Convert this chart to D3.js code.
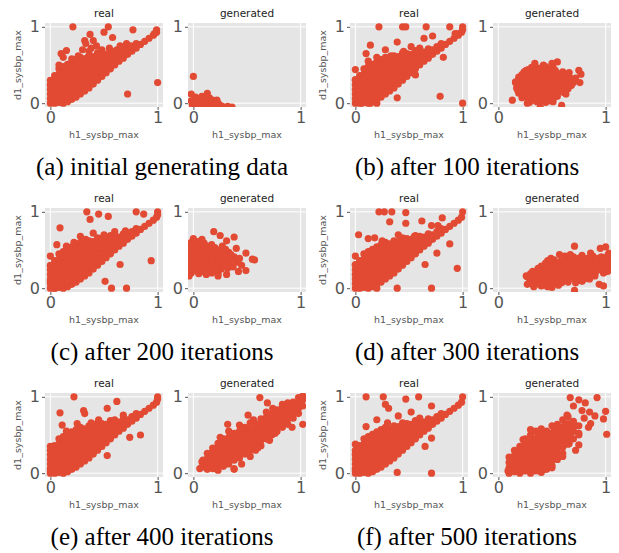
<!DOCTYPE html>
<html><head><meta charset="utf-8">
<script src="https://cdn.jsdelivr.net/npm/d3@7"></script>
<style>body{margin:0;background:#fff}</style></head>
<body>
<svg id="chart" width="619" height="553"></svg>
<script>
// ---- data ----
const captions = ["(a) initial generating data","(b) after 100 iterations","(c) after 200 iterations","(d) after 300 iterations","(e) after 400 iterations","(f) after 500 iterations"];
const subTitles = ["real","generated"];
const xLabel = "h1_sysbp_max";
const yLabel = "d1_sysbp_max";
const tickVals = [0,1];

// dense core shared by the real-data panels (h1_sysbp_max, d1_sysbp_max)
const realCore = [
[0.00,0.00],[0.00,0.06],[0.00,0.12],[0.00,0.18],[0.00,0.24],[0.00,0.30],
[0.04,0.00],[0.04,0.05],[0.04,0.11],[0.04,0.17],[0.04,0.23],[0.04,0.29],[0.04,0.36],
[0.08,0.01],[0.08,0.07],[0.08,0.13],[0.08,0.19],[0.08,0.25],[0.08,0.31],[0.08,0.38],[0.08,0.45],
[0.12,0.00],[0.12,0.05],[0.12,0.11],[0.12,0.17],[0.12,0.23],[0.12,0.29],[0.12,0.35],[0.12,0.41],[0.12,0.48],
[0.16,0.02],[0.16,0.08],[0.16,0.14],[0.16,0.20],[0.16,0.26],[0.16,0.32],[0.16,0.38],[0.16,0.44],[0.16,0.51],
[0.20,0.05],[0.20,0.11],[0.20,0.17],[0.20,0.23],[0.20,0.29],[0.20,0.35],[0.20,0.41],[0.20,0.47],[0.20,0.54],
[0.24,0.08],[0.24,0.14],[0.24,0.20],[0.24,0.26],[0.24,0.32],[0.24,0.38],[0.24,0.44],[0.24,0.50],[0.24,0.57],
[0.28,0.12],[0.28,0.18],[0.28,0.24],[0.28,0.30],[0.28,0.36],[0.28,0.42],[0.28,0.48],[0.28,0.54],[0.28,0.60],
[0.32,0.16],[0.32,0.22],[0.32,0.28],[0.32,0.34],[0.32,0.40],[0.32,0.46],[0.32,0.52],[0.32,0.58],
[0.36,0.20],[0.36,0.26],[0.36,0.32],[0.36,0.38],[0.36,0.44],[0.36,0.50],[0.36,0.56],[0.36,0.62],
[0.40,0.25],[0.40,0.31],[0.40,0.37],[0.40,0.43],[0.40,0.49],[0.40,0.55],[0.40,0.61],
[0.44,0.30],[0.44,0.36],[0.44,0.42],[0.44,0.48],[0.44,0.54],[0.44,0.60],[0.44,0.66],
[0.48,0.35],[0.48,0.41],[0.48,0.47],[0.48,0.53],[0.48,0.59],[0.48,0.65],
[0.52,0.40],[0.52,0.46],[0.52,0.52],[0.52,0.58],[0.52,0.64],
[0.56,0.45],[0.56,0.51],[0.56,0.57],[0.56,0.63],[0.56,0.69],
[0.60,0.50],[0.60,0.56],[0.60,0.62],[0.60,0.68],
[0.64,0.55],[0.64,0.61],[0.64,0.67],
[0.68,0.59],[0.68,0.65],[0.68,0.71],
[0.72,0.64],[0.72,0.70],[0.76,0.68],[0.76,0.74],[0.80,0.72],[0.80,0.78],
[0.84,0.77],[0.88,0.81],[0.92,0.85],[0.96,0.89],[0.99,0.93]];

const realA = [[0.21,1.0],[0.54,1.0],[0.77,0.96],[0.99,0.96],[0.97,0.91],[0.37,0.90],[0.50,0.93],[0.40,0.82],[0.58,0.86],[0.71,0.78],[0.75,0.75],[1.0,0.27],[0.72,0.12],[0.32,0.82],[0.33,0.78],[0.43,0.75],[0.15,0.69],[0.10,0.65],[0.12,0.60],[0.0,0.24],[0.26,0.62],[0.48,0.70],[0.55,0.72],[0.62,0.70],[0.36,0.68],[0.08,0.50],[0.20,0.58],[0.65,0.75],[0.30,0.70],[0.38,0.72],[0.45,0.65],[0.52,0.64],[0.60,0.68],[0.42,0.60],[0.35,0.60],[0.25,0.56],[0.18,0.50]];
const realB = [[0.22,1.0],[0.44,1.0],[0.47,1.0],[0.66,1.0],[0.88,1.0],[1.0,1.0],[1.0,0.96],[0.96,0.91],[0.93,0.91],[0.72,0.88],[0.64,0.85],[0.39,0.80],[0.14,0.76],[0.10,0.65],[0.52,0.74],[0.82,0.60],[0.79,0.09],[1.0,0.0],[0.06,0.0],[0.14,0.0],[0.20,0.0],[0.0,0.44],[0.0,0.31],[0.39,0.07],[0.56,0.37],[0.28,0.70],[0.45,0.68],[0.60,0.72],[0.33,0.62],[0.20,0.60],[0.12,0.55]];
const realC = [[0.34,1.0],[0.45,0.97],[0.54,0.94],[0.37,0.90],[0.80,1.0],[1.0,1.0],[1.0,0.96],[0.87,0.97],[0.09,0.79],[0.28,0.68],[0.06,0.57],[0.94,0.36],[0.65,0.31],[0.51,0.09],[0.57,0.0],[0.71,0.0],[0.0,0.42],[0.0,0.29],[0.0,0.09],[0.04,0.0],[0.40,0.72],[0.50,0.70],[0.60,0.74],[0.22,0.60],[0.33,0.64],[0.70,0.75],[0.15,0.55]];
const realD = [[0.22,1.0],[0.27,1.0],[0.34,1.0],[0.47,0.99],[1.0,1.0],[0.32,0.87],[0.47,0.85],[0.62,0.88],[0.71,0.82],[0.81,0.92],[0.77,0.82],[0.03,0.70],[0.88,0.58],[0.76,0.46],[0.65,0.31],[0.95,0.26],[0.71,0.0],[0.39,0.0],[0.20,0.0],[0.0,0.42],[0.0,0.31],[0.12,0.65],[0.25,0.62],[0.40,0.70],[0.55,0.68],[0.18,0.66]];
const realE = [[0.22,1.0],[0.62,0.94],[1.0,1.0],[1.0,0.97],[0.09,0.79],[0.31,0.82],[0.32,0.78],[0.53,0.85],[0.11,0.63],[0.45,0.70],[0.74,0.47],[0.84,0.50],[0.53,0.23],[0.0,0.35],[0.0,0.03],[0.25,0.65],[0.38,0.66],[0.60,0.70],[0.15,0.55],[0.68,0.76]];
const realF = [[0.10,1.0],[0.26,1.0],[0.47,0.97],[0.59,1.0],[1.0,1.0],[0.31,0.85],[0.71,0.88],[0.10,0.61],[0.0,0.38],[0.0,0.25],[0.0,0.03],[0.39,0.01],[0.71,0.0],[0.65,0.35],[0.71,0.46],[0.28,0.90],[0.40,0.75],[0.52,0.80],[0.20,0.70],[0.60,0.72],[0.30,0.66]];

const genA = [[0.00,0.35],[-0.02,0.12],[0.13,0.13],[0.22,0.04],[0.25,-0.03],[0.36,-0.05],[0.32,-0.04],[0.00,0.00],[0.03,0.03],[0.06,0.00],[0.09,0.05],[0.12,0.02],[0.15,0.07],[0.02,0.08],[0.05,0.06],[0.08,0.09],[0.11,0.07],[0.18,0.04],[0.20,0.01],[0.16,-0.01],[0.10,-0.02],[0.04,-0.03],[-0.01,-0.02],[0.07,-0.04],[0.13,-0.04],[0.19,-0.05],[0.27,-0.04],[0.23,0.00],[0.01,0.05],[-0.02,0.03]];
const genB = [[0.31,0.47],[0.37,0.46],[0.44,0.48],[0.51,0.47],[0.28,0.44],[0.34,0.44],[0.40,0.43],[0.47,0.44],[0.53,0.43],
[0.24,0.41],[0.30,0.40],[0.36,0.42],[0.42,0.40],[0.48,0.41],[0.54,0.40],[0.60,0.41],[0.22,0.375],[0.28,0.37],[0.34,0.38],[0.40,0.37],[0.46,0.38],[0.52,0.37],[0.58,0.38],[0.64,0.37],
[0.19,0.34],[0.25,0.35],[0.31,0.33],[0.37,0.34],[0.43,0.35],[0.49,0.33],[0.55,0.34],[0.61,0.35],[0.67,0.33],[0.19,0.30],[0.25,0.31],[0.31,0.30],[0.37,0.31],[0.43,0.30],[0.49,0.31],[0.55,0.30],[0.61,0.31],[0.67,0.30],
[0.16,0.27],[0.22,0.28],[0.28,0.26],[0.34,0.27],[0.40,0.28],[0.46,0.26],[0.52,0.27],[0.58,0.28],[0.64,0.26],[0.70,0.27],[0.20,0.235],[0.26,0.24],[0.32,0.23],[0.38,0.24],[0.44,0.23],[0.50,0.24],[0.56,0.23],[0.62,0.24],[0.68,0.23],
[0.17,0.20],[0.23,0.21],[0.29,0.19],[0.35,0.20],[0.41,0.21],[0.47,0.19],[0.53,0.20],[0.59,0.21],[0.65,0.19],[0.22,0.165],[0.28,0.16],[0.34,0.17],[0.40,0.16],[0.46,0.17],[0.52,0.16],[0.58,0.17],[0.62,0.165],
[0.19,0.13],[0.25,0.14],[0.31,0.12],[0.37,0.13],[0.43,0.14],[0.49,0.12],[0.55,0.13],[0.61,0.14],[0.25,0.10],[0.31,0.09],[0.37,0.10],[0.43,0.09],[0.49,0.10],[0.55,0.09],
[0.22,0.07],[0.28,0.06],[0.34,0.08],[0.40,0.07],[0.46,0.06],[0.52,0.08],[0.29,0.01],[0.36,0.02],[0.44,0.01],[0.51,0.02],[0.32,0.04],[0.40,0.035],[0.47,0.03],
[0.34,0.52],[0.42,0.50],[0.50,0.52],[0.55,0.54],[0.26,0.43],[0.75,0.43],[0.77,0.38],[0.76,0.27],[0.69,0.26],[0.13,0.04],[0.16,0.28],[0.18,0.17],[0.39,-0.05],[0.59,-0.03],[0.27,0.00],[0.63,0.12],[0.72,0.33],[0.66,0.40]];
const genC = [[-0.02,0.60],[0.04,0.61],[0.10,0.59],[-0.04,0.54],[0.02,0.53],[0.08,0.55],[0.14,0.54],[0.20,0.53],[0.27,0.55],[-0.01,0.57],[0.05,0.57],[0.11,0.56],[0.17,0.57],
[-0.03,0.47],[0.03,0.48],[0.09,0.46],[0.15,0.47],[0.21,0.48],[0.27,0.46],[0.33,0.47],[0.00,0.50],[0.06,0.51],[0.12,0.50],[0.18,0.51],[0.24,0.50],[0.30,0.51],
[-0.04,0.40],[0.02,0.41],[0.08,0.39],[0.14,0.40],[0.20,0.41],[0.26,0.39],[0.32,0.40],[0.38,0.41],[-0.01,0.44],[0.05,0.43],[0.11,0.44],[0.17,0.43],[0.23,0.44],[0.29,0.43],[0.35,0.44],
[-0.03,0.33],[0.03,0.34],[0.09,0.32],[0.15,0.33],[0.21,0.34],[0.27,0.32],[0.33,0.33],[0.40,0.34],[0.00,0.37],[0.06,0.36],[0.12,0.37],[0.18,0.36],[0.24,0.37],[0.30,0.36],[0.36,0.37],
[-0.04,0.26],[0.02,0.27],[0.08,0.25],[0.14,0.26],[0.20,0.27],[0.26,0.25],[0.32,0.26],[-0.01,0.30],[0.05,0.29],[0.11,0.30],[0.17,0.29],[0.23,0.30],[0.29,0.29],
[-0.02,0.20],[0.05,0.19],[0.11,0.21],[0.17,0.20],[0.23,0.19],[0.02,0.23],[0.08,0.22],[0.14,0.23],[0.20,0.23],
[0.00,0.65],[0.08,0.64],[0.19,0.74],[0.25,0.69],[0.38,0.67],[0.31,0.62],[0.40,0.52],[0.49,0.46],[0.43,0.39],[0.57,0.37],[0.49,0.23],[0.42,0.22],[0.31,0.18],[0.23,0.16],[-0.04,0.16],[0.12,0.18],[0.45,0.30],[0.37,0.28],[0.55,0.38]];
const genD = [[0.62,0.42],[0.70,0.41],[0.78,0.43],[0.88,0.42],[0.96,0.41],[1.02,0.43],[0.66,0.39],[0.75,0.39],[0.83,0.39],[0.92,0.39],[0.99,0.39],
[0.46,0.36],[0.52,0.37],[0.58,0.35],[0.64,0.36],[0.72,0.37],[0.78,0.35],[0.84,0.36],[0.90,0.37],[0.96,0.35],[1.03,0.36],[0.44,0.33],[0.49,0.33],[0.55,0.32],[0.61,0.33],[0.67,0.32],[0.73,0.33],[0.79,0.32],[0.85,0.33],[0.91,0.32],[0.97,0.33],[1.03,0.32],
[0.40,0.29],[0.46,0.30],[0.52,0.28],[0.58,0.29],[0.64,0.30],[0.70,0.28],[0.76,0.29],[0.82,0.30],[0.88,0.28],[0.94,0.29],[1.00,0.30],[0.37,0.26],[0.43,0.25],[0.49,0.26],[0.55,0.25],[0.61,0.26],[0.67,0.25],[0.73,0.26],[0.79,0.25],[0.85,0.26],[0.91,0.25],[0.97,0.26],
[0.32,0.22],[0.38,0.23],[0.44,0.21],[0.50,0.22],[0.56,0.23],[0.62,0.21],[0.68,0.22],[0.74,0.23],[0.80,0.21],[0.86,0.22],[0.92,0.23],[1.02,0.22],[0.30,0.19],[0.36,0.18],[0.42,0.19],[0.48,0.18],[0.54,0.19],[0.60,0.18],[0.66,0.19],[0.72,0.18],[0.78,0.19],[0.84,0.18],[0.90,0.19],
[0.27,0.15],[0.33,0.16],[0.39,0.14],[0.45,0.15],[0.51,0.16],[0.57,0.14],[0.63,0.15],[0.69,0.16],[0.75,0.14],[0.81,0.15],[0.90,0.16],[0.30,0.12],[0.36,0.11],[0.42,0.12],[0.48,0.11],[0.54,0.12],[0.60,0.11],[0.66,0.12],[0.72,0.11],[0.80,0.12],
[0.29,0.08],[0.35,0.09],[0.41,0.07],[0.47,0.08],[0.53,0.09],[0.59,0.07],[0.65,0.08],[0.78,0.09],[0.32,0.05],[0.38,0.05],[0.44,0.04],[0.50,0.05],[0.56,0.04],[0.33,0.02],[0.40,0.03],[0.46,0.02],
[0.71,0.55],[0.95,0.52],[1.00,0.54],[1.03,0.46],[0.26,0.16],[0.27,0.05],[0.50,0.01],[0.71,-0.03],[0.72,0.07],[0.94,0.05],[0.98,0.03],[0.85,0.12],[0.49,0.39],[0.57,0.44],[0.67,0.44],[0.75,0.39],[0.86,0.46],[1.05,0.29],[0.98,0.20]];
const genE = [[0.08,0.08],[0.08,0.15],[0.13,0.05],[0.13,0.12],[0.13,0.19],[0.13,0.26],[0.18,0.06],[0.18,0.13],[0.18,0.20],[0.18,0.27],[0.18,0.33],[0.23,0.04],[0.23,0.11],[0.23,0.18],[0.23,0.25],[0.23,0.32],[0.23,0.39],[0.28,0.09],[0.28,0.16],[0.28,0.23],[0.28,0.30],[0.28,0.37],[0.28,0.45],[0.33,0.12],[0.33,0.19],[0.33,0.26],[0.33,0.33],[0.33,0.40],[0.33,0.47],[0.33,0.55],[0.38,0.06],[0.38,0.17],[0.38,0.24],[0.38,0.31],[0.38,0.38],[0.38,0.45],[0.38,0.52],[0.43,0.20],[0.43,0.27],[0.43,0.34],[0.43,0.41],[0.43,0.48],[0.43,0.55],[0.43,0.63],[0.48,0.25],[0.48,0.32],[0.48,0.39],[0.48,0.46],[0.48,0.53],[0.48,0.60],[0.53,0.22],[0.53,0.30],[0.53,0.37],[0.53,0.44],[0.53,0.51],[0.53,0.58],[0.53,0.66],[0.58,0.30],[0.58,0.37],[0.58,0.44],[0.58,0.51],[0.58,0.58],[0.58,0.65],[0.63,0.36],[0.63,0.43],[0.63,0.50],[0.63,0.57],[0.63,0.64],[0.63,0.71],[0.68,0.45],[0.68,0.52],[0.68,0.59],[0.68,0.66],[0.68,0.73],[0.68,0.80],[0.73,0.50],[0.73,0.57],[0.73,0.64],[0.73,0.71],[0.73,0.78],[0.78,0.55],[0.78,0.62],[0.78,0.69],[0.78,0.76],[0.78,0.83],[0.83,0.60],[0.83,0.67],[0.83,0.74],[0.83,0.81],[0.83,0.88],[0.88,0.64],[0.88,0.71],[0.88,0.78],[0.88,0.85],[0.88,0.92],[0.93,0.72],[0.93,0.79],[0.93,0.86],[0.93,0.93],[0.98,0.78],[0.98,0.85],[0.98,0.92],[0.98,0.99],[1.02,0.88],[1.02,0.96],
[0.06,0.06],[0.09,0.17],[0.17,0.26],[0.22,0.05],[0.38,0.05],[0.32,0.64],[0.51,0.76],[0.62,0.99],[0.69,0.92],[0.74,0.85],[0.83,0.90],[1.02,1.01],[1.02,0.64],[0.92,0.60],[0.86,0.66],[0.71,0.43],[0.60,0.33],[0.76,0.52],[0.25,0.47],[0.45,0.12],[0.56,0.70]];
const genF = [[0.10,0.00],[0.10,0.07],[0.10,0.14],[0.10,0.21],[0.15,0.02],[0.15,0.09],[0.15,0.16],[0.15,0.23],[0.15,0.30],[0.20,0.00],[0.20,0.07],[0.20,0.14],[0.20,0.21],[0.20,0.28],[0.20,0.35],[0.25,0.03],[0.25,0.10],[0.25,0.17],[0.25,0.24],[0.25,0.31],[0.25,0.38],[0.25,0.45],[0.30,0.00],[0.30,0.07],[0.30,0.14],[0.30,0.21],[0.30,0.28],[0.30,0.35],[0.30,0.42],[0.30,0.50],[0.35,0.03],[0.35,0.10],[0.35,0.17],[0.35,0.24],[0.35,0.31],[0.35,0.38],[0.35,0.45],[0.35,0.55],[0.40,0.01],[0.40,0.08],[0.40,0.15],[0.40,0.22],[0.40,0.29],[0.40,0.36],[0.40,0.43],[0.40,0.50],[0.40,0.58],[0.45,0.05],[0.45,0.12],[0.45,0.19],[0.45,0.26],[0.45,0.33],[0.45,0.40],[0.45,0.47],[0.45,0.55],[0.50,0.10],[0.50,0.17],[0.50,0.24],[0.50,0.31],[0.50,0.38],[0.50,0.45],[0.50,0.52],[0.50,0.62],[0.55,0.18],[0.55,0.25],[0.55,0.32],[0.55,0.40],[0.55,0.48],[0.55,0.56],[0.55,0.64],[0.60,0.26],[0.60,0.34],[0.60,0.42],[0.60,0.50],[0.60,0.60],[0.60,0.70],[0.65,0.38],[0.65,0.46],[0.65,0.55],[0.65,0.65],[0.65,0.74],[0.70,0.45],[0.70,0.55],[0.70,0.68],[0.75,0.52],[0.75,0.62],
[0.12,0.04],[0.12,0.11],[0.12,0.18],[0.17,0.05],[0.17,0.12],[0.17,0.19],[0.17,0.26],[0.22,0.03],[0.22,0.10],[0.22,0.17],[0.22,0.24],[0.22,0.31],[0.27,0.06],[0.27,0.13],[0.27,0.20],[0.27,0.27],[0.27,0.34],[0.32,0.04],[0.32,0.11],[0.32,0.18],[0.32,0.25],[0.32,0.32],[0.32,0.39],[0.37,0.06],[0.37,0.13],[0.37,0.20],[0.37,0.27],[0.37,0.34],[0.42,0.11],[0.42,0.18],[0.42,0.25],[0.42,0.32],[0.47,0.15],[0.47,0.22],[0.47,0.29],
[0.42,0.39],[0.42,0.46],[0.47,0.36],[0.47,0.43],[0.47,0.50],[0.52,0.34],[0.52,0.42],[0.52,0.49],[0.52,0.57],[0.57,0.44],[0.57,0.52],[0.57,0.60],[0.62,0.46],[0.62,0.55],[0.62,0.64],[0.67,0.50],[0.67,0.60],[0.72,0.62],[0.37,0.41],[0.37,0.49],
[0.67,0.99],[0.75,0.96],[0.92,0.99],[0.70,0.88],[0.81,0.92],[1.00,0.81],[0.98,0.71],[1.01,0.51],[0.85,0.80],[0.86,0.65],[0.75,0.50],[0.75,0.37],[0.66,0.39],[0.60,0.22],[0.50,0.07],[0.43,0.05],[0.80,0.72],[0.90,0.75],[0.78,0.82],[0.84,0.60],[0.72,0.30],[0.23,0.44],[0.30,0.57],[0.64,0.76],[0.09,0.03]];

const realExtras = [realA, realB, realC, realD, realE, realF];
const genSets = [genA, genB, genC, genD, genE, genF];

// ---- drawing ----
const svg = d3.select("#chart");
const colX = [0, 305], rowY = [0, 185, 370];
const plotW = 118, plotH = 84, plotTop = 23;
const subLeft = [45, 188];
const dotColor = "#E24A33";

captions.forEach((cap, i) => {
  const ox = colX[i % 2], oy = rowY[Math.floor(i / 2)];
  const sets = [realCore.concat(realExtras[i]), genSets[i]];
  sets.forEach((data, j) => {
    const left = ox + subLeft[j], top = oy + plotTop;
    const x = d3.scaleLinear().domain([-0.05, 1.05]).range([left, left + plotW]);
    const y = d3.scaleLinear().domain([-0.05, 1.05]).range([top + plotH, top]);
    const g = svg.append("g");
    g.append("rect").attr("x", left).attr("y", top).attr("width", plotW).attr("height", plotH).attr("fill", "#E5E5E5");
    tickVals.forEach(v => {
      g.append("line").attr("x1", x(v)).attr("x2", x(v)).attr("y1", top).attr("y2", top + plotH).attr("stroke", "#fff").attr("stroke-width", 1);
      g.append("line").attr("y1", y(v)).attr("y2", y(v)).attr("x1", left).attr("x2", left + plotW).attr("stroke", "#fff").attr("stroke-width", 1);
    });
    const cid = "clip" + i + "_" + j;
    svg.append("clipPath").attr("id", cid).append("rect").attr("x", left).attr("y", top).attr("width", plotW).attr("height", plotH);
    g.append("g").attr("clip-path", "url(#" + cid + ")")
      .selectAll("circle").data(data).join("circle")
      .attr("cx", d => x(d[0])).attr("cy", d => y(d[1])).attr("r", 3.6)
      .attr("fill", dotColor);
    const ax = g.append("g").attr("transform", `translate(0,${top + plotH})`)
      .call(d3.axisBottom(x).tickValues(tickVals).tickFormat(d3.format("d")).tickSize(3).tickPadding(2));
    const ay = g.append("g").attr("transform", `translate(${left},0)`)
      .call(d3.axisLeft(y).tickValues(tickVals).tickFormat(d3.format("d")).tickSize(3).tickPadding(2));
    [ax, ay].forEach(a => {
      a.select(".domain").remove();
      a.selectAll(".tick line").attr("stroke", "#555");
      a.selectAll(".tick text").attr("fill", "#555").style("font-family", "DejaVu Sans").style("font-size", "16px");
    });
    g.append("text").attr("x", left + plotW / 2).attr("y", top - 6).attr("text-anchor", "middle")
      .style("font-family", "DejaVu Sans").style("font-size", "10.5px").attr("fill", "#222").text(subTitles[j]);
    g.append("text").attr("x", left + plotW / 2).attr("y", top + plotH + 31).attr("text-anchor", "middle")
      .style("font-family", "DejaVu Sans").style("font-size", "9.5px").attr("fill", "#555").text(xLabel);
    if (j === 0) {
      g.append("text").attr("transform", `translate(${left - 24},${top + plotH / 2}) rotate(-90)`).attr("text-anchor", "middle")
        .style("font-family", "DejaVu Sans").style("font-size", "9.5px").attr("fill", "#555").text(yLabel);
    }
  });
  svg.append("text").attr("x", ox + 162).attr("y", oy + 175).attr("text-anchor", "middle")
    .style("font-family", "'Liberation Serif', 'Times New Roman', Times, serif").style("font-size", "25px").attr("fill", "#000").text(cap);
});
</script>
</body></html>
